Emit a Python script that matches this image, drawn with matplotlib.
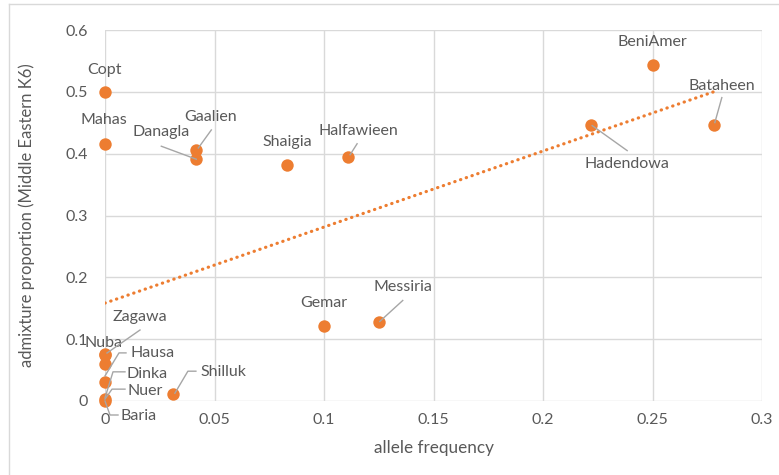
import numpy as np
import matplotlib
matplotlib.use("Agg")
import matplotlib.pyplot as plt
from matplotlib.lines import Line2D

names = ["Copt", "Mahas", "Gaalien", "Danagla", "Shaigia", "Halfawieen", "BeniAmer",
         "Hadendowa", "Bataheen", "Gemar", "Messiria", "Shilluk", "Zagawa", "Nuba",
         "Hausa", "Dinka", "Nuer", "Baria"]
allele_freq = [0.0, 0.0, 0.0417, 0.0417, 0.0833, 0.111, 0.25,
               0.222, 0.278, 0.1, 0.125, 0.031, 0.0, 0.0,
               0.0, 0.0, 0.0, 0.0]
admixture = [0.5, 0.415, 0.406, 0.391, 0.381, 0.395, 0.543,
             0.447, 0.447, 0.121, 0.127, 0.011, 0.076, 0.075,
             0.06, 0.031, 0.003, 0.0]

xticks = [0, 0.05, 0.1, 0.15, 0.2, 0.25, 0.3]
yticks = [0, 0.1, 0.2, 0.3, 0.4, 0.5, 0.6]

# label offsets (pixels): text center offset, and optional leader path (offsets from point)
label_cfg = {
    "Copt": ((0, 22), None),
    "Mahas": ((-1, 24), None),
    "Gaalien": ((14, 33), [(2, 2), (15, 20)]),
    "Danagla": ((-35, 27), [(0, 0), (-35, 13)]),
    "Shaigia": ((0, 23), None),
    "Halfawieen": ((10, 26), [(2, 2), (9, 13)]),
    "BeniAmer": ((0, 23), None),
    "Hadendowa": ((36, -39), [(1, -1), (36, -26)]),
    "Bataheen": ((8, 39), [(1, 2), (8, 27)]),
    "Gemar": ((0, 23), None),
    "Messiria": ((24, 35), [(1, 1), (24, 22)]),
    "Shilluk": ((51, 22), [(2, 1), (15, 23), (23, 23)]),
    "Zagawa": ((35, 37), [(2, 1), (35, 24)]),
    "Nuba": ((-2, 12), None),
    "Hausa": ((48, 11), [(0, -12), (14, 11), (21, 11)]),
    "Dinka": ((42, 8), [(0, -16), (8, 10), (20, 10)]),
    "Nuer": ((40, 8), [(0, 0), (7, 10), (20, 10)]),
    "Baria": ((34, -15), [(0, 0), (5, -14), (13, -14)]),
}

plt.rcParams['font.family'] = ['Lato', 'DejaVu Sans']
W, H = 779, 475
fig = plt.figure(figsize=(W / 100, H / 100), dpi=100)
ax = fig.add_axes([105 / W, 1 - 401 / H, (762 - 105) / W, (401 - 30) / H])

txtc = "#595959"
orange = "#ED7D31"
gridc = "#D9D9D9"

ax.set_xlim(0, 0.3)
ax.set_ylim(0, 0.6)
ax.set_xticks(xticks)
ax.set_yticks(yticks)
ax.set_xticklabels([f"{v:g}" for v in xticks])
ax.set_yticklabels([f"{v:g}" for v in yticks])
ax.grid(True, color=gridc, linewidth=1)
ax.set_axisbelow(True)
for s in ax.spines.values():
    s.set_visible(False)
ax.tick_params(length=0, colors=txtc, labelsize=11.5)
ax.tick_params(axis='x', pad=9)
ax.tick_params(axis='y', pad=12)

# trendline
coef = np.polyfit(allele_freq, admixture, 1)
xx = np.array([0, max(allele_freq)])
ax.plot(xx, np.polyval(coef, xx), linestyle=(0, (0.1, 1.8)), color=orange, linewidth=2.3, zorder=2,
        dash_capstyle='round')

ax.scatter(allele_freq, admixture, s=80, color=orange, zorder=4, clip_on=False, linewidths=0)

# labels
dpi_scale = 72 / 100.0
inv = fig.transFigure.inverted()
for n, x, y in zip(names, allele_freq, admixture):
    (tx, ty), path = label_cfg[n]
    ax.annotate(n, (x, y), xytext=(tx * dpi_scale, ty * dpi_scale), textcoords='offset points',
                ha='center', va='center', fontsize=11.5, color=txtc, zorder=5)
    if path:
        px, py = ax.transData.transform((x, y))
        xs = [(px + dx) for dx, dy in path]
        ys = [(py + dy) for dx, dy in path]
        pts = inv.transform(np.column_stack([xs, ys]))
        fig.add_artist(Line2D(pts[:, 0], pts[:, 1], color="#A6A6A6", linewidth=1, zorder=3))

ax.set_xlabel("allele frequency", color=txtc, fontsize=12.3, labelpad=9)
ax.set_ylabel("admixture proportion (Middle Eastern K6)", color=txtc, fontsize=12, labelpad=22)

# chart border (top and left visible)
fig.add_artist(Line2D([9 / W, 9 / W], [0, 1 - 4 / H], color=gridc, linewidth=1))
fig.add_artist(Line2D([9 / W, 1], [1 - 4 / H, 1 - 4 / H], color=gridc, linewidth=1))

fig.savefig("out.png", dpi=100)
